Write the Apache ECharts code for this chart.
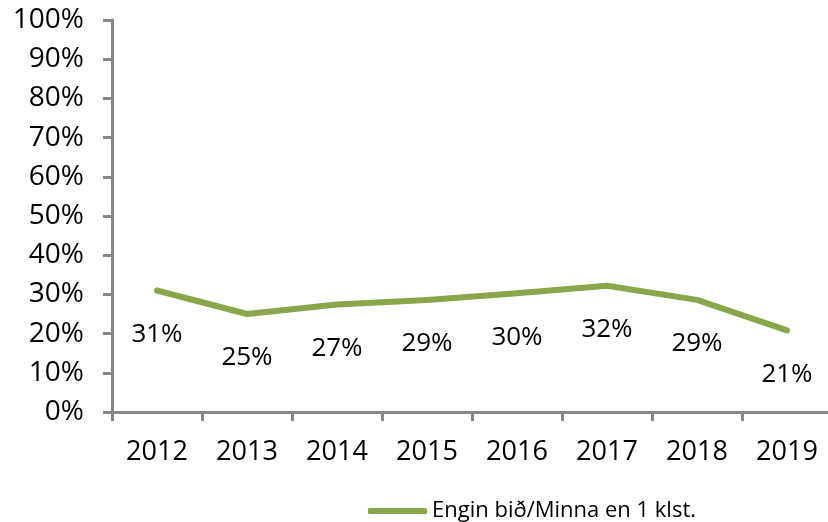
<!DOCTYPE html>
<html>
<head>
<meta charset="utf-8">
<script src="https://cdn.jsdelivr.net/npm/echarts@6/dist/echarts.min.js"></script>
<style>
  html, body { margin: 0; padding: 0; background: #fff; }
  #chart { width: 828px; height: 522px; }
</style>
</head>
<body>
<div id="chart"></div>
<script>
// gögn
const years = ['2012', '2013', '2014', '2015', '2016', '2017', '2018', '2019']
const enginBid = [0.31, 0.25, 0.274, 0.286, 0.303, 0.322, 0.286, 0.208]
const seriesName = 'Engin bið/Minna en 1 klst.'

const fontFamily = '"Open Sans", "Noto Sans", sans-serif'
const axisGray = '#878787'
const lineGreen = '#89a64a'

let myChart = echarts.init(document.getElementById('chart'))
myChart.setOption({
  animation: false,
  textStyle: { fontFamily: fontFamily },
  grid: {
    left: 112,
    top: 20,
    width: 720,
    bottom: 110,
    outerBoundsMode: 'none'
  },
  legend: {
    left: 363,
    top: 495,
    icon: 'roundRect',
    itemWidth: 59,
    itemHeight: 6,
    itemGap: 5,
    itemStyle: { color: lineGreen, opacity: 1 },
    textStyle: { fontSize: 22, color: '#000', fontFamily: fontFamily },
    data: [seriesName]
  },
  xAxis: {
    type: 'category',
    data: years,
    boundaryGap: true,
    axisLine: { show: true, lineStyle: { color: axisGray, width: 3 } },
    axisTick: { show: true, length: 9, interval: 0, lineStyle: { color: axisGray, width: 3 } },
    axisLabel: { interval: 0, margin: 27, fontSize: 27, color: '#000', fontFamily: fontFamily },
    splitLine: { show: false }
  },
  yAxis: {
    type: 'value',
    min: 0,
    max: 1,
    interval: 0.1,
    axisLine: { show: true, lineStyle: { color: axisGray, width: 3 } },
    axisTick: { show: true, length: 9, lineStyle: { color: axisGray, width: 3 } },
    axisLabel: {
      margin: 28,
      fontSize: 28,
      color: '#000',
      fontFamily: fontFamily,
      formatter: v => Math.round(v * 100) + '%'
    },
    splitLine: { show: false }
  },
  series: [
    {
      name: seriesName,
      type: 'line',
      data: enginBid,
      symbol: 'circle',
      symbolSize: 0.1,
      itemStyle: { color: lineGreen },
      lineStyle: { color: lineGreen, width: 6, cap: 'round', join: 'round' },
      label: {
        show: true,
        position: 'bottom',
        distance: 31,
        fontSize: 26,
        color: '#000',
        fontFamily: fontFamily,
        formatter: p => Math.round(p.value * 100) + '%'
      }
    }
  ]
})
</script>
</body>
</html>
